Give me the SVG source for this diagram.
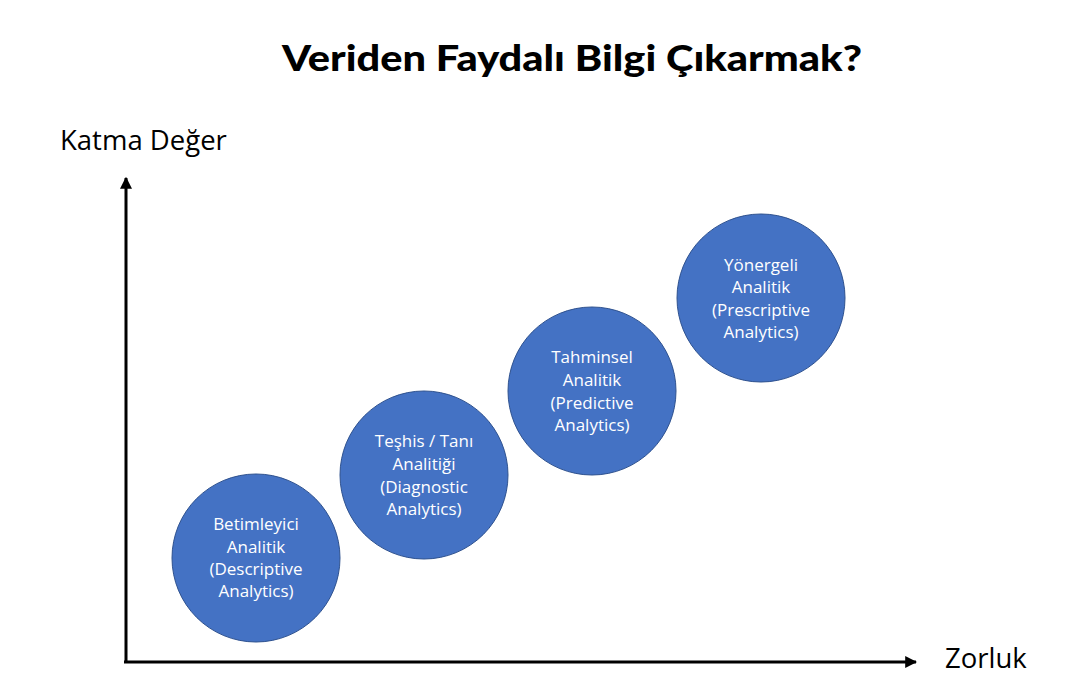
<svg xmlns="http://www.w3.org/2000/svg" width="1083" height="682" viewBox="0 0 1083 682">
<style>
.title{font-family:"Lato","Open Sans","Liberation Sans",sans-serif;font-weight:900;font-size:36px;fill:#000}
.axis-label{font-family:"Open Sans","Liberation Sans",sans-serif;font-size:27.5px;fill:#000}
.node circle{fill:#4472C4;stroke:#2F528F;stroke-width:1}
.node text{font-family:"Open Sans","Liberation Sans",sans-serif;font-size:17px;fill:#fff;text-anchor:middle}
.axis{stroke:#000;stroke-width:3;fill:none}
</style>
<defs>
<marker id="arr" viewBox="0 0 10 10" refX="9" refY="5" markerWidth="4" markerHeight="4" orient="auto" markerUnits="strokeWidth">
<path d="M0,0 L10,5 L0,10 z" fill="#000"/>
</marker>
</defs>
<rect width="1083" height="682" fill="#fff"/>
<text class="title" x="282" y="71" textLength="580" lengthAdjust="spacingAndGlyphs">Veriden Faydalı Bilgi Çıkarmak?</text>
<text class="axis-label" x="60" y="150">Katma Değer</text>
<text class="axis-label" x="945" y="668">Zorluk</text>
<g id="connectors">
<line class="axis" x1="126" y1="663" x2="126" y2="178" marker-end="url(#arr)"/>
<line class="axis" x1="124" y1="662" x2="916" y2="662" marker-end="url(#arr)"/>
</g>
<g id="node1" class="node">
<circle cx="256" cy="558" r="84"/>
<text x="256" y="530">Betimleyici</text>
<text x="256" y="553">Analitik</text>
<text x="256" y="575">(Descriptive</text>
<text x="256" y="597">Analytics)</text>
</g>
<g id="node2" class="node">
<circle cx="424" cy="475" r="84"/>
<text x="424" y="447">Teşhis / Tanı</text>
<text x="424" y="470">Analitiği</text>
<text x="424" y="493">(Diagnostic</text>
<text x="424" y="515">Analytics)</text>
</g>
<g id="node3" class="node">
<circle cx="592" cy="391" r="84"/>
<text x="592" y="363">Tahminsel</text>
<text x="592" y="386">Analitik</text>
<text x="592" y="409">(Predictive</text>
<text x="592" y="431">Analytics)</text>
</g>
<g id="node4" class="node">
<circle cx="761" cy="298" r="84"/>
<text x="761" y="271">Yönergeli</text>
<text x="761" y="293">Analitik</text>
<text x="761" y="316">(Prescriptive</text>
<text x="761" y="338">Analytics)</text>
</g>
</svg>
